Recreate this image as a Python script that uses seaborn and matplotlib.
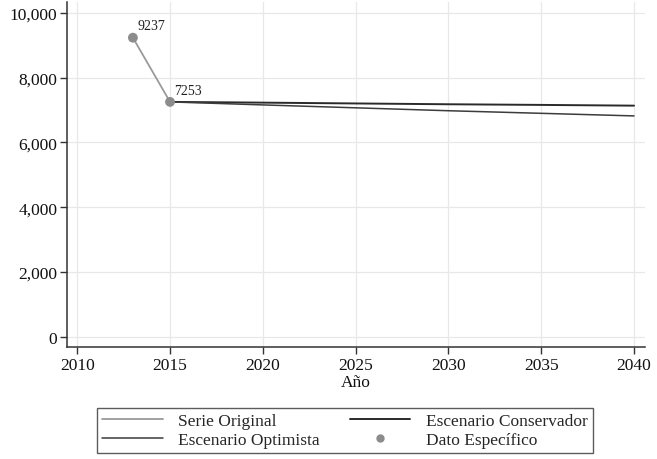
import matplotlib
matplotlib.use("Agg")
import matplotlib.pyplot as plt
import seaborn as sns
import pandas as pd
from matplotlib.ticker import FuncFormatter
from matplotlib.lines import Line2D

sns.set_theme(style="white")
plt.rcParams['font.family'] = ['Liberation Serif', 'DejaVu Serif']

orig_years = [2013, 2015]
orig_vals = [9237, 7253]
scen_years = [2015, 2020, 2025, 2030, 2035, 2040]
cons_vals = [7253, 7230, 7205, 7180, 7160, 7137]
opt_vals = [7253, 7160, 7070, 6980, 6900, 6820]
pt_years = [2013, 2015]
pt_vals = [9237, 7253]
pt_labels = ["9237", "7253"]

fig = plt.figure(figsize=(6.57, 4.60), dpi=100)
ax = fig.add_axes([0.102, 0.2435, 0.880, 0.750])

df_o = pd.DataFrame({"year": orig_years, "val": orig_vals})
df_c = pd.DataFrame({"year": scen_years, "val": cons_vals})
df_p = pd.DataFrame({"year": scen_years, "val": opt_vals})
df_pt = pd.DataFrame({"year": pt_years, "val": pt_vals})

sns.lineplot(data=df_o, x="year", y="val", ax=ax, color="#9a9a9a", lw=1.3)
sns.lineplot(data=df_c, x="year", y="val", ax=ax, color="#2a2a2a", lw=1.4)
sns.lineplot(data=df_p, x="year", y="val", ax=ax, color="#3c3c3c", lw=1.1)
sns.scatterplot(data=df_pt, x="year", y="val", ax=ax, color="#8c8c8c", s=50,
                edgecolor="none", zorder=5)
for x, y, t in zip(pt_years, pt_vals, pt_labels):
    ax.annotate(t, (x, y), xytext=(3, 6), textcoords="offset points",
                fontsize=10, color="#222222")

ax.set_xlim(2009.45, 2040.6)
ax.set_ylim(-320, 10340)
ax.set_xticks([2010, 2015, 2020, 2025, 2030, 2035, 2040])
ax.set_yticks([0, 2000, 4000, 6000, 8000, 10000])
ax.yaxis.set_major_formatter(FuncFormatter(lambda v, p: f"{int(v):,}"))
ax.grid(True, color="#e8e8e8", lw=0.9)
ax.set_axisbelow(True)
for s in ["top", "right"]:
    ax.spines[s].set_visible(False)
for s in ["left", "bottom"]:
    ax.spines[s].set_color("#333333")
    ax.spines[s].set_linewidth(1.1)
ax.tick_params(axis="both", which="major", direction="out", length=5, width=1,
               color="#333333", labelsize=12.5, labelcolor="#111111", pad=2,
               bottom=True, left=True)
ax.set_xlabel("Año", fontsize=12.5, color="#111111", labelpad=1)
ax.set_ylabel("")

handles = [
    Line2D([], [], color="#9a9a9a", lw=1.3),
    Line2D([], [], color="#3c3c3c", lw=1.1),
    Line2D([], [], color="#2a2a2a", lw=1.4),
    Line2D([], [], marker="o", color="#8c8c8c", ls="none", markersize=5),
]
labels = ["Serie Original", "Escenario Optimista", "Escenario Conservador", "Dato Específico"]
leg = fig.legend(handles, labels, ncol=2, loc="lower center",
                 bbox_to_anchor=(0.525, 0.005), frameon=True, fontsize=12.5,
                 handlelength=3.5, columnspacing=1.7, handletextpad=0.9,
                 borderpad=0.3, labelspacing=0.15, borderaxespad=0.2,
                 fancybox=False)
leg.get_frame().set_edgecolor("#333333")
leg.get_frame().set_linewidth(1.0)
leg.get_frame().set_facecolor("white")

fig.savefig("out.png", dpi=100, facecolor="white")
